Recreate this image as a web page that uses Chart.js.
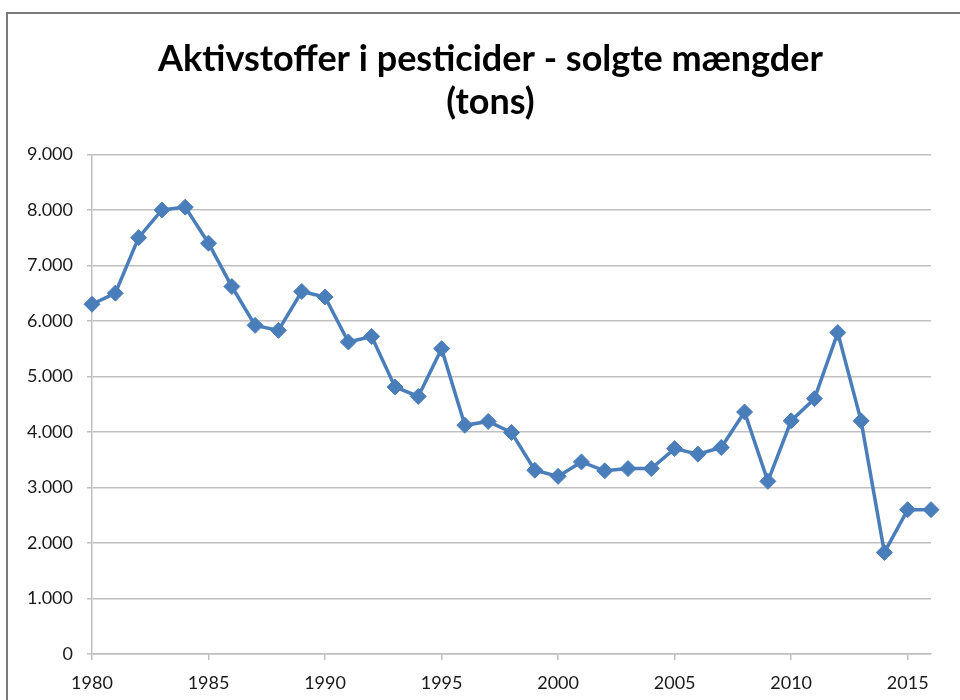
<!DOCTYPE html>
<html lang="da">
<head>
<meta charset="utf-8">
<title>Aktivstoffer i pesticider</title>
<script src="https://cdn.jsdelivr.net/npm/chart.js@4/dist/chart.umd.min.js"></script>
<style>
  html, body { margin: 0; padding: 0; background: #fff; overflow: hidden; }
  #ramme { position: absolute; left: 6px; top: 12px; width: 1000px; height: 1000px;
           border-top: 2px solid #7a7a7a; border-left: 2px solid #7a7a7a; }
  #holder { position: absolute; left: 0; top: 0; width: 960px; height: 700px; }
</style>
</head>
<body>
<div id="ramme"></div>
<div id="holder"><canvas id="graf"></canvas></div>
<script>
// Data (tons aktivstof pr. år)
const aar = [1980, 1981, 1982, 1983, 1984, 1985, 1986, 1987, 1988, 1989,
             1990, 1991, 1992, 1993, 1994, 1995, 1996, 1997, 1998, 1999,
             2000, 2001, 2002, 2003, 2004, 2005, 2006, 2007, 2008, 2009,
             2010, 2011, 2012, 2013, 2014, 2015, 2016];
const tons = [6300, 6500, 7500, 8000, 8050, 7400, 6620, 5920, 5830, 6530,
              6430, 5620, 5720, 4810, 4640, 5500, 4120, 4190, 3990, 3310,
              3200, 3460, 3300, 3340, 3340, 3700, 3600, 3720, 4360, 3110,
              4200, 4600, 5790, 4200, 1830, 2600, 2600];
const aarEtiketter = [1980, 1985, 1990, 1995, 2000, 2005, 2010, 2015];
const tonsEtiketter = [0, 1000, 2000, 3000, 4000, 5000, 6000, 7000, 8000, 9000];
const titel = ['Aktivstoffer i pesticider - solgte mængder', '(tons)'];

const blaa = '#4a7ebb';
const gitter = '#c0c0c0';
const skrift = 'Lato, "Open Sans", sans-serif';

// tusindtalsseparator med punktum, som i dansk Excel
function medPunktum(v) {
    return String(v).replace(/\B(?=(\d{3})+(?!\d))/g, '.');
}

const punkter = aar.map((a, i) => ({ x: a, y: tons[i] }));

// titlen står lidt til højre for midten, som i Excel-diagrammet
const flytTitel = {
    id: 'flytTitel',
    afterLayout(chart) {
        if (chart.titleBlock) chart.titleBlock.left += 35;
    }
};

new Chart(document.getElementById('graf'), {
    type: 'line',
    data: {
        datasets: [{
            label: 'Aktivstoffer (tons)',
            data: punkter,
            borderColor: blaa,
            backgroundColor: blaa,
            borderWidth: 3.5,
            pointStyle: 'rectRot',
            pointRadius: 8,
            pointBorderWidth: 1,
            pointBackgroundColor: blaa,
            pointBorderColor: blaa,
            tension: 0,
            clip: false
        }]
    },
    plugins: [flytTitel],
    options: {
        responsive: true,
        maintainAspectRatio: false,
        animation: false,
        layout: { padding: { left: 15, right: 29, top: 0, bottom: 0 } },
        plugins: {
            legend: { display: false },
            tooltip: { enabled: false },
            title: {
                display: true,
                text: titel,
                color: '#000',
                font: { family: skrift, size: 36, weight: 'bold', lineHeight: 1.2 },
                padding: { top: 38, bottom: 30 }
            }
        },
        scales: {
            x: {
                type: 'linear',
                min: 1980,
                max: 2016,
                afterBuildTicks: s => { s.ticks = aarEtiketter.map(v => ({ value: v })); },
                afterFit: s => { s.height = 46; },
                grid: { drawOnChartArea: false, drawTicks: true, tickLength: 6, color: gitter, lineWidth: 1.5 },
                border: { color: gitter, width: 1.5 },
                ticks: {
                    color: '#1a1a1a',
                    padding: 12,
                    maxRotation: 0,
                    font: { family: skrift, size: 18 },
                    callback: v => String(v)
                }
            },
            y: {
                min: 0,
                max: 9000,
                afterBuildTicks: s => { s.ticks = tonsEtiketter.map(v => ({ value: v })); },
                afterFit: s => { s.width = 77; },
                grid: { color: gitter, lineWidth: 1.5, drawTicks: true, tickLength: 5 },
                border: { color: gitter, width: 1.5 },
                ticks: {
                    color: '#1a1a1a',
                    padding: 14,
                    font: { family: skrift, size: 18 },
                    callback: v => medPunktum(v)
                }
            }
        }
    }
});
</script>
</body>
</html>
